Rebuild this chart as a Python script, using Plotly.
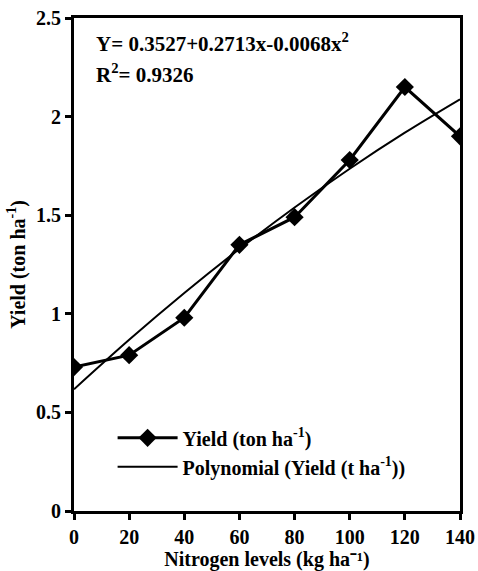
import plotly.graph_objects as go

nitrogen = [0, 20, 40, 60, 80, 100, 120, 140]
yield_ton = [0.73, 0.79, 0.98, 1.35, 1.49, 1.78, 2.15, 1.90]
poly_fit = [0.6172, 0.8681, 1.1054, 1.3291, 1.5392, 1.7357, 1.9186, 2.0879]
x_ticks = [0, 20, 40, 60, 80, 100, 120, 140]
y_ticks = [0, 0.5, 1, 1.5, 2, 2.5]
y_tick_text = ["0", "0.5", "1", "1.5", "2", "2.5"]
equation_text = "Y= 0.3527+0.2713x-0.0068x<sup>2</sup>"
r2_text = "R<sup>2</sup>= 0.9326"

font_fam = "Times New Roman, serif"
fs = 20

fig = go.Figure()
fig.add_trace(go.Scatter(
    x=nitrogen, y=yield_ton, mode="lines+markers",
    name="Yield (ton ha<sup>-1</sup>)",
    line=dict(color="black", width=3),
    marker=dict(symbol="diamond", size=14, color="black"),
))
fig.add_trace(go.Scatter(
    x=nitrogen, y=poly_fit, mode="lines",
    name="Polynomial (Yield (t ha<sup>-1</sup>))",
    line=dict(color="black", width=2, shape="spline"),
))

for txt, yy in [(equation_text, 0.95), (r2_text, 0.888)]:
    fig.add_annotation(
        x=0.052, y=yy, xref="paper", yref="paper", xanchor="left", yanchor="middle",
        text=txt, showarrow=False, align="left",
        font=dict(family=font_fam, size=21, color="black", weight="bold"),
    )

fig.update_layout(
    width=478, height=571,
    margin=dict(l=74, r=18, t=18, b=60),
    paper_bgcolor="white", plot_bgcolor="white",
    font=dict(family=font_fam, size=fs, color="black", weight="bold"),
    showlegend=True,
    legend=dict(x=0.1, y=0.188, xanchor="left", yanchor="top",
                bgcolor="rgba(0,0,0,0)",
                font=dict(family=font_fam, size=fs, weight="bold"),
                tracegroupgap=0, itemwidth=60),
    xaxis=dict(
        range=[0, 140], tickvals=x_ticks, automargin=False,
        ticktext=[str(v) for v in x_ticks],
        tickfont=dict(family=font_fam, size=fs, weight="bold"),
        showgrid=False, zeroline=False,
        showline=True, linecolor="black", linewidth=3, mirror=True,
        ticks="outside", ticklen=6, tickwidth=3, tickcolor="black",
        title=dict(text="Nitrogen levels (kg ha\u207b\u00b9)", standoff=5,
                   font=dict(family=font_fam, size=fs, weight="bold")),
    ),
    yaxis=dict(
        range=[0, 2.5], tickvals=y_ticks, automargin=False,
        ticktext=y_tick_text,
        tickfont=dict(family=font_fam, size=fs, weight="bold"),
        showgrid=False, zeroline=False,
        showline=True, linecolor="black", linewidth=3, mirror=True,
        ticks="outside", ticklen=6, tickwidth=3, tickcolor="black",
        title=dict(text="Yield (ton ha<sup>-1</sup>)", standoff=6,
                   font=dict(family=font_fam, size=fs, weight="bold")),
    ),
)

fig.write_html("out.html", config={"displayModeBar": False},
               post_script="document.body.style.margin='0';document.body.style.overflow='hidden';")
